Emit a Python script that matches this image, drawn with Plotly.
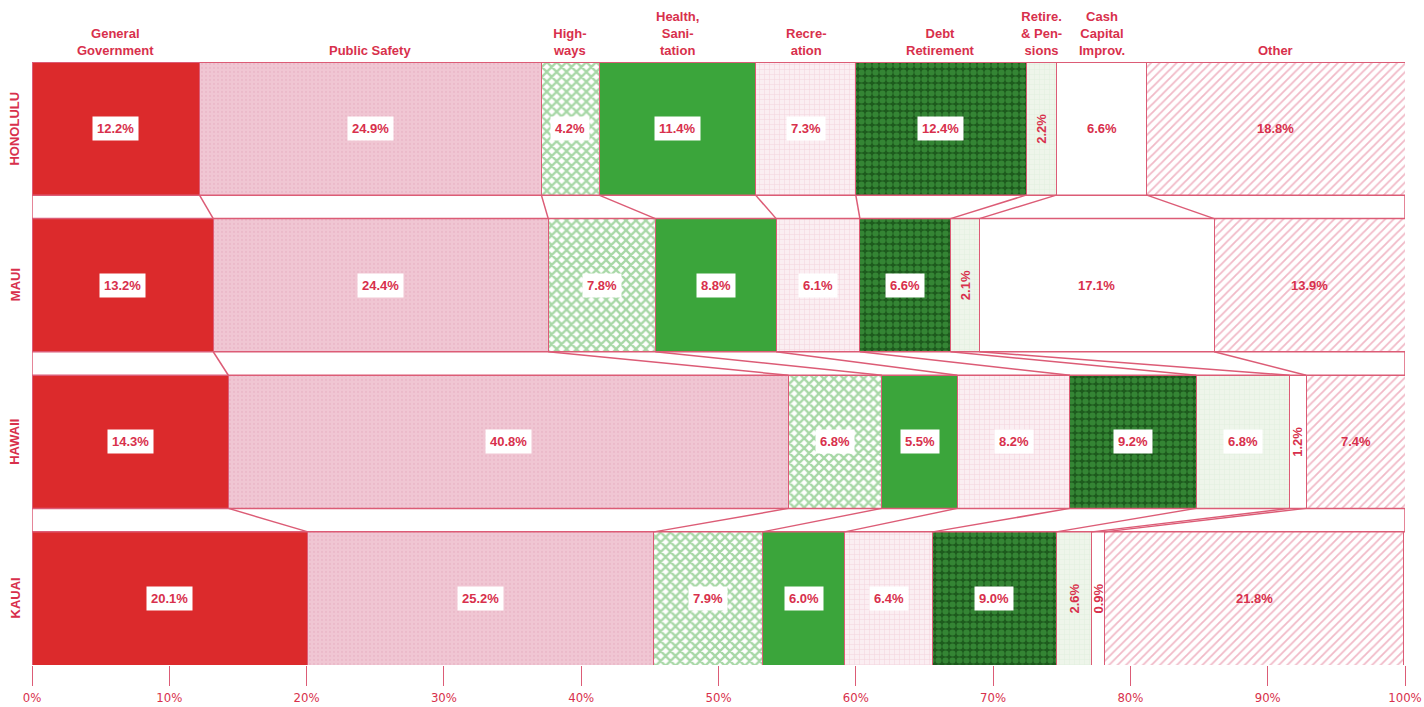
import numpy as np
import plotly.graph_objects as go

# Expenditure shares (%) by county and function
counties = ["HONOLULU", "MAUI", "HAWAII", "KAUAI"]
categories = [
    "General<br>Government", "Public Safety", "High-<br>ways", "Health,<br>Sani-<br>tation",
    "Recre-<br>ation", "Debt<br>Retirement", "Retire.<br>& Pen-<br>sions", "Cash<br>Capital<br>Improv.", "Other",
]
honolulu = [12.2, 24.9, 4.2, 11.4, 7.3, 12.4, 2.2, 6.6, 18.8]
maui = [13.2, 24.4, 7.8, 8.8, 6.1, 6.6, 2.1, 17.1, 13.9]
hawaii = [14.3, 40.8, 6.8, 5.5, 8.2, 9.2, 6.8, 1.2, 7.4]
kauai = [20.1, 25.2, 7.9, 6.0, 6.4, 9.0, 2.6, 0.9, 21.8]
tick_vals = [0, 10, 20, 30, 40, 50, 60, 70, 80, 90, 100]
tick_text = ["0%", "10%", "20%", "30%", "40%", "50%", "60%", "70%", "80%", "90%", "100%"]

RED = "#d8304c"
EDGE = "#dc5c76"
HALF = 0.425  # half bar thickness in row units
FONT = "Liberation Sans, Arial, sans-serif"

# fill style per category: (base colour, pattern shape, pattern colour, size, solidity)
styles = [
    ("#dc2a2c", "", None, None, None),
    ("#f0c6d3", ".", "#e5aec0", 4, 0.25),
    ("#ffffff", "x", "#4fb04d", 7, 0.55),
    ("#3ba53b", "", None, None, None),
    ("#fbeef2", "+", "#eab8c7", 5, 0.2),
    ("#1d5a1d", ".", "#4cb04c", 7, 0.6),
    ("#eef5ea", "+", "#d6e8cf", 5, 0.2),
    ("#ffffff", "", None, None, None),
    ("#ffffff", "/", "#e27490", 6, 0.3),
]

rows = [honolulu, maui, hawaii, kauai]
data = np.array(rows)
cum = np.hstack([np.zeros((4, 1)), np.cumsum(data, axis=1)])
cum[:, -1] = 100.0

fig = go.Figure()
for j, cat in enumerate(categories):
    col, shape, fg, size, sol = styles[j]
    marker = dict(color=col, line=dict(color=EDGE, width=1))
    if shape:
        marker["pattern"] = dict(shape=shape, fgcolor=fg, bgcolor=col,
                                 size=size, solidity=sol, fillmode="overlay")
    fig.add_trace(go.Bar(
        y=list(range(4)), x=[r[j] for r in rows], orientation="h",
        name=cat.replace("<br>", " "), marker=marker, showlegend=False,
        hoverinfo="skip",
    ))

shapes = []
# connecting lines between category boundaries of adjacent rows
for i in range(3):
    for k in range(len(categories) + 1):
        shapes.append(dict(
            type="line", xref="x", yref="y",
            x0=cum[i, k], y0=i + HALF, x1=cum[i + 1, k], y1=i + 1 - HALF,
            line=dict(color=EDGE, width=1.5), layer="above",
        ))
    shapes.append(dict(type="line", xref="x", yref="y", x0=0, x1=100,
                       y0=i + HALF, y1=i + HALF, line=dict(color=EDGE, width=1.5)))
    shapes.append(dict(type="line", xref="x", yref="y", x0=0, x1=100,
                       y0=i + 1 - HALF, y1=i + 1 - HALF, line=dict(color=EDGE, width=1.5)))

annotations = []
# value labels
for i, r in enumerate(rows):
    for j, v in enumerate(r):
        xc = (cum[i, j] + cum[i, j + 1]) / 2
        small = v < 3
        boxed = (not small) and j != len(categories) - 1
        annotations.append(dict(
            x=xc, y=i, xref="x", yref="y", text=f"<b>{v:.1f}%</b>",
            showarrow=False, textangle=-90 if small else 0,
            font=dict(family=FONT, size=13, color=RED),
            bgcolor="#ffffff" if boxed else None, borderpad=4 if boxed else 1,
        ))

# column headings above the first row
for j, cat in enumerate(categories):
    xc = (cum[0, j] + cum[0, j + 1]) / 2
    annotations.append(dict(
        x=xc, y=-HALF, xref="x", yref="y", text=f"<b>{cat}</b>",
        showarrow=False, yanchor="bottom", yshift=2,
        font=dict(family=FONT, size=13, color=RED),
    ))

# county names
for i, c in enumerate(counties):
    annotations.append(dict(
        x=0, y=i, xref="paper", yref="y", text=f"<b>{c}</b>",
        showarrow=False, textangle=-90, xanchor="center", xshift=-17,
        font=dict(family=FONT, size=13, color=RED),
    ))

fig.update_layout(
    barmode="stack", bargap=0.15,
    width=1424, height=707,
    margin=dict(l=32, r=19, t=62, b=42),
    paper_bgcolor="#ffffff", plot_bgcolor="#ffffff",
    shapes=shapes, annotations=annotations,
    xaxis=dict(range=[0, 100], tickvals=tick_vals, ticktext=tick_text,
               ticks="outside", ticklen=20, tickcolor=EDGE, tickwidth=1,
               showgrid=False, zeroline=False, showline=False,
               automargin=False, ticklabeloverflow="allow",
               tickfont=dict(family="Liberation Sans Narrow, DejaVu Sans Condensed, sans-serif",
                             size=13, color=RED)),
    yaxis=dict(range=[3 + HALF, -HALF], showticklabels=False, showgrid=False,
               zeroline=False, showline=False, ticks="", automargin=False),
)

fig.write_html("out.html")
